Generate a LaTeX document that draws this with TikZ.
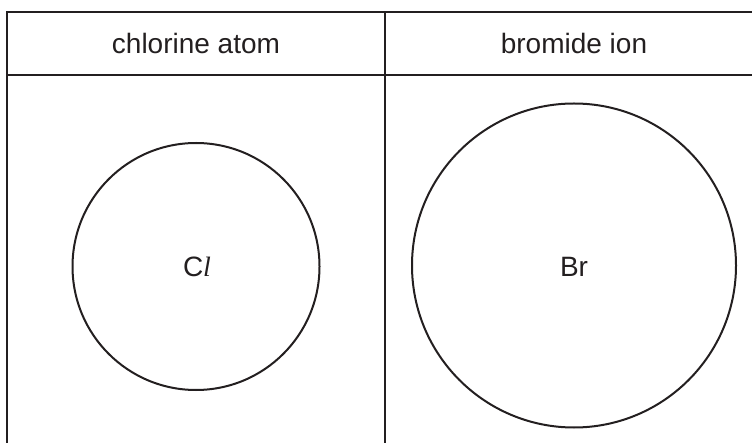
\documentclass[tikz,border=0pt]{standalone}
\usepackage{fontspec}
\setmainfont{Liberation Sans}
\newfontfamily\serifit{Liberation Serif}
\definecolor{ink}{RGB}{35,31,32}
\begin{document}
\begin{tikzpicture}[x=1pt,y=-1pt,
  rule/.style={draw=ink, line width=1.4pt},
  headrule/.style={draw=ink, line width=2.4pt},
  atom/.style={circle, draw=ink, line width=2pt, inner sep=0pt},
  lbl/.style={font=\fontsize{28}{32}\selectfont, text=ink, inner sep=0pt, anchor=base}]
\useasboundingbox (0,0) rectangle (752,443);
\coordinate (tl) at (7,12);
\coordinate (bl) at (7,450);
\coordinate (tr) at (770,12);
\coordinate (tm) at (385,12);
\coordinate (bm) at (385,450);
\coordinate (hl) at (7,75);
\coordinate (hr) at (770,75);
\draw[rule] (bl) -- (tl) -- (tr);
\draw[rule] (tm) -- (bm);
\draw[headrule] (hl) -- (hr);
\node[lbl] (h1) at (196,54) {chlorine atom};
\node[lbl] (h2) at (574,54) {bromide ion};
\node[atom, minimum size=247pt] (cl) at (196,266.5) {};
\node[atom, minimum size=324pt] (br) at (574,265.5) {};
\node[lbl] (cllbl) at (197,277) {C{\serifit\itshape l}};
\node[lbl] (brlbl) at (574,277) {Br};
\end{tikzpicture}
\end{document}
